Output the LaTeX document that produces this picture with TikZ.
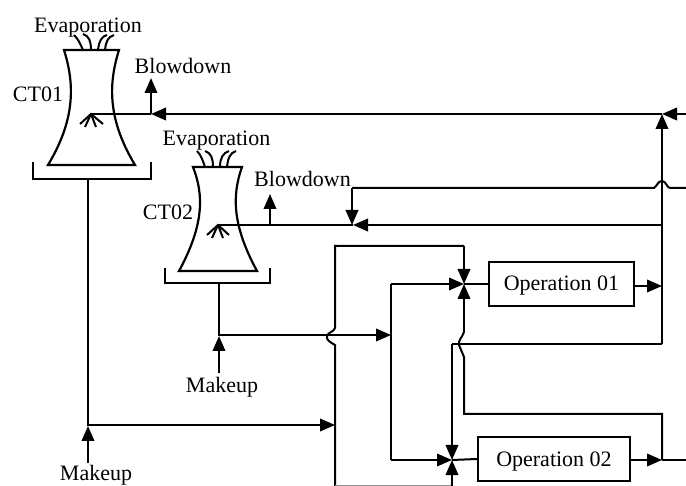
\documentclass[tikz,border=0pt]{standalone}
\usepackage{fontspec}
\setmainfont{Liberation Serif}
\usetikzlibrary{arrows.meta}
\tikzset{
  pipe/.style={line width=2pt,line join=miter},
  flow/.style={pipe,-{Triangle[length=15pt,width=12.5pt]}},
  shell/.style={line width=2.2pt,line join=miter},
  lab/.style={font=\fontsize{22}{24}\selectfont,inner sep=0pt,anchor=base},
  opbox/.style={draw,line width=2.2pt,inner sep=0pt,minimum height=44pt,text height=18pt,text depth=4pt,font=\fontsize{22}{24}\selectfont},
  vent/.style={line width=2pt},
  faint/.style={line width=1pt,black!45}
}
\begin{document}
\begin{tikzpicture}[x=1pt,y=-1pt]
\useasboundingbox (0,0) rectangle (686,486);
% --- junction coordinates
\coordinate (sprayA) at (91,114);
\coordinate (bdA) at (151,114);
\coordinate (tipA) at (151,78);
\coordinate (mainJ) at (662,114);
\coordinate (rightA) at (686,114);
\coordinate (sprayB) at (218,225);
\coordinate (bdB) at (270,225);
\coordinate (tipB) at (270,194);
\coordinate (jB) at (353,225);
\coordinate (riserB) at (662,225);
\coordinate (upper) at (352,188);
\coordinate (b1) at (654,188);
\coordinate (b2) at (670,188);
\coordinate (rightB) at (686,188);
\coordinate (basinA) at (88,179);
\coordinate (makeA) at (88,426);
\coordinate (srcA) at (88,463);
\coordinate (inA) at (335,425);
\coordinate (basinB) at (219,283);
\coordinate (makeB) at (219,336);
\coordinate (srcB) at (219,373);
\coordinate (inB) at (391,335);
\coordinate (mix1) at (464,284);
\coordinate (mix2) at (452,460);
\coordinate (vL) at (335,246);
\coordinate (vLbot) at (335,486);
\coordinate (t1) at (464,246);
\coordinate (m1) at (391,284);
\coordinate (m2) at (391,460);
\coordinate (out1) at (662,286);
\coordinate (ret1) at (662,344);
\coordinate (ret2) at (452,344);
\coordinate (out2) at (662,460);
\coordinate (rightC) at (686,460);
\coordinate (o2up) at (662,414);
\coordinate (o2l) at (464,414);
\coordinate (botJ) at (452,486);
% --- boxes
\node[opbox,minimum width=145pt] (op1) at (561.5,284) {Operation 01};
\node[opbox,minimum width=152pt] (op2) at (554,459) {Operation 02};
% --- tower CT01
\draw[shell] (64,50) -- (119,50)
  .. controls (108,85) and (108,120) .. (135,165) -- (48,165)
  .. controls (75,120) and (75,85) .. (64,50) -- cycle;
\draw[pipe] (33,162) -- (33,179) -- (151,179) -- (151,162);
\draw[vent] (83,50) .. controls (80,43) and (78,39) .. (74,35);
\draw[vent] (91,50) .. controls (91,41) and (89,36) .. (83,34);
\draw[vent] (98,50) .. controls (99,41) and (102,36) .. (107,35);
\draw[vent] (105,50) .. controls (106,41) and (108,37) .. (114,35);
\draw[vent] (80,124) -- (sprayA) -- (103,124);
\draw[vent] (sprayA) -- (85,127);
\draw[vent] (sprayA) -- (96,127);
% --- tower CT02
\draw[shell] (193,167) -- (242,167)
  .. controls (232,195) and (232,225) .. (257,271) -- (179,271)
  .. controls (204,225) and (204,195) .. (193,167) -- cycle;
\draw[pipe] (165,268) -- (165,283) -- (270,283) -- (270,268);
\draw[vent] (205,167) .. controls (203,161) and (201,155) .. (197,151);
\draw[vent] (213,167) .. controls (213,158) and (211,153) .. (205,151);
\draw[vent] (220,167) .. controls (220,158) and (223,153) .. (229,151);
\draw[vent] (227,167) .. controls (228,158) and (230,153) .. (236,151);
\draw[vent] (207,235) -- (sprayB) -- (229,235);
\draw[vent] (sprayB) -- (212,238);
\draw[vent] (sprayB) -- (223,238);
% --- cooling water returns
\draw[flow] (rightA) -- (mainJ);
\draw[flow] (mainJ) -- (bdA);
\draw[pipe] (bdA) -- (sprayA);
\draw[flow] (bdA) -- (tipA);
\draw[flow] (riserB) -- (jB);
\draw[pipe] (jB) -- (sprayB);
\draw[flow] (bdB) -- (tipB);
\draw[flow] (upper) -- (352,225);
\draw[pipe] (upper) -- (b1) .. controls (657,186) and (658,181) .. (662,181)
  .. controls (666,181) and (667,188) .. (b2) -- (rightB);
% --- makeup
\draw[pipe] (basinA) -- (makeA);
\draw[flow] (srcA) -- (makeA);
\draw[flow] (88,425) -- (inA);
\draw[pipe] (basinB) -- (makeB);
\draw[flow] (srcB) -- (makeB);
\draw[flow] (219,335) -- (inB);
% --- left supply with hop
\draw[pipe] (vLbot) -- (335,345) .. controls (330,342) and (326,340) .. (327,336)
  .. controls (328,332) and (334,332) .. (335,328) -- (vL) -- (t1);
\draw[flow] (t1) -- (mix1);
\draw[faint] (vLbot |- 0,485) -- (botJ |- 0,485);
\draw[flow] (botJ) -- (mix2);
% --- supply to operations
\draw[pipe] (m2) -- (m1);
\draw[flow] (m1) -- (mix1);
\draw[flow] (m2) -- (mix2);
\draw[pipe] (mix1) -- (op1.west);
\draw[pipe] (mix2) -- (op2.west);
\draw[flow] (op1.east |- out1) -- (out1);
\draw[flow] (op2.east |- out2) -- (out2);
\draw[pipe] (out2) -- (rightC);
\draw[flow] (ret1) -- (mainJ);
\draw[pipe] (ret1) -- (ret2);
\draw[flow] (ret2) -- (mix2);
\draw[pipe] (out2) -- (o2up) -- (o2l) -- (464,357) -- (459,345) .. controls (458,340) and (462,338) .. (464,332);
\draw[flow] (464,332) -- (mix1);
% --- labels
\node[lab] (evA) at (88,33) {Evaporation};
\node[lab] (bdlA) at (183,74) {Blowdown};
\node[lab] (ctA) at (38,102) {CT01};
\node[lab] (evB) at (216.5,146) {Evaporation};
\node[lab] (bdlB) at (302.5,187) {Blowdown};
\node[lab] (ctB) at (168,220) {CT02};
\node[lab] (mkB) at (222,393) {Makeup};
\node[lab] (mkA) at (96,480) {Makeup};
\end{tikzpicture}
\end{document}
